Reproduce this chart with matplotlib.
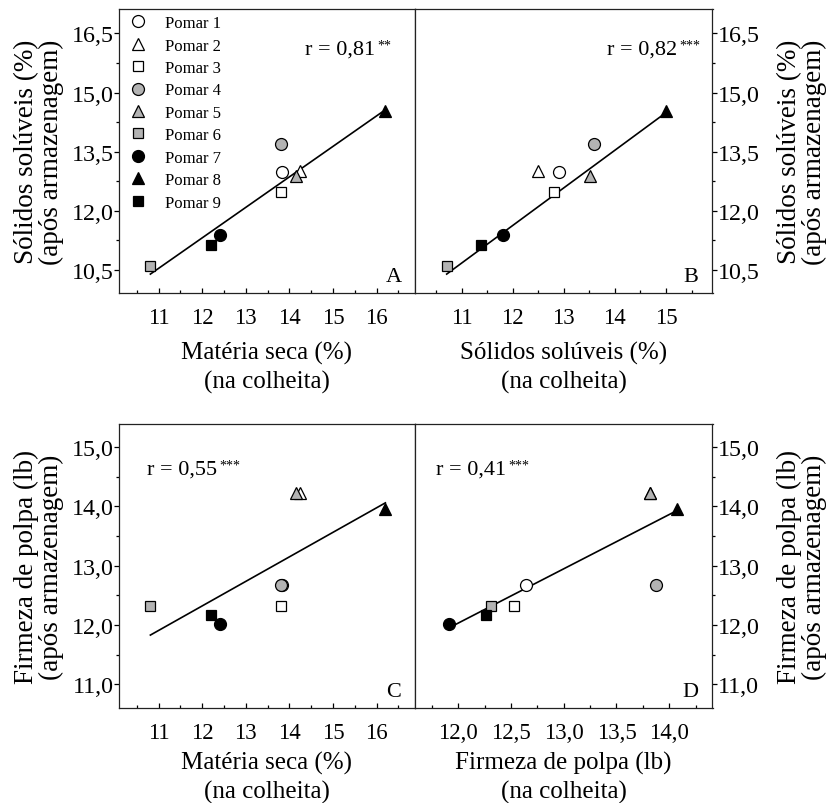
import matplotlib
matplotlib.use("Agg")
import matplotlib.pyplot as plt
from matplotlib import ticker

plt.rcParams['font.family'] = ['Liberation Serif', 'DejaVu Serif']

# ---------------- data ----------------
pomares = ['Pomar 1', 'Pomar 2', 'Pomar 3', 'Pomar 4', 'Pomar 5',
           'Pomar 6', 'Pomar 7', 'Pomar 8', 'Pomar 9']
ms_colheita = [13.84, 14.24, 13.80, 13.80, 14.15, 10.81, 12.40, 16.20, 12.21]
ss_colheita = [12.90, 12.50, 12.81, 13.59, 13.51, 10.71, 11.81, 15.01, 11.39]
ss_armaz = [12.97, 13.01, 12.48, 13.69, 12.87, 10.60, 11.38, 14.54, 11.13]
ff_colheita = [12.64, 13.82, 12.53, 13.87, 13.82, 12.31, 11.91, 14.07, 12.26]
ff_armaz = [12.67, 14.23, 12.32, 12.67, 14.23, 12.32, 12.02, 13.95, 12.17]

lineA_x = [10.81, 16.12]; lineA_y = [10.39, 14.50]
lineB_x = [10.71, 14.98]; lineB_y = [10.39, 14.47]
lineC_x = [10.81, 16.20]; lineC_y = [11.83, 14.06]
lineD_x = [11.91, 14.04]; lineD_y = [11.95, 13.90]

r_labels = ['0,81', '0,82', '0,55', '0,41']
r_stars = ['**', '***', '***', '***']
panel_letters = ['A', 'B', 'C', 'D']

# marker styles per pomar
GRAY = '#b3b3b3'
shapes = ['o', '^', 's', 'o', '^', 's', 'o', '^', 's']
faces = ['white', 'white', 'white', GRAY, GRAY, GRAY, 'black', 'black', 'black']
msizes = {'o': 8.6, '^': 8.6, 's': 7.2}

W, H = 828, 804
fig = plt.figure(figsize=(W / 100, H / 100), dpi=100)

def rect(l, r, t, b):
    return [l / W, (H - b) / H, (r - l) / W, (b - t) / H]

axA = fig.add_axes(rect(119, 415, 10, 294))
axB = fig.add_axes(rect(415, 712.5, 10, 294))
axC = fig.add_axes(rect(119, 415, 425, 709))
axD = fig.add_axes(rect(415, 712.5, 425, 709))

def comma(fmt):
    return ticker.FuncFormatter(lambda v, p: (fmt % v).replace('.', ','))

def style(ax, side):
    for s in ax.spines.values():
        s.set_linewidth(0.9)
        s.set_color('#222222')
    ax.tick_params(axis='x', which='both', direction='in', top=False,
                   labelsize=16.5, pad=10)
    ax.tick_params(axis='x', which='major', length=3.6, width=0.9)
    ax.tick_params(axis='x', which='minor', length=2.3, width=0.9)
    if side == 'left':
        ax.tick_params(axis='y', which='both', direction='out', left=True,
                       right=False, labelleft=True, labelright=False,
                       labelsize=17.3, pad=0.3)
    else:
        ax.tick_params(axis='y', which='both', direction='out', left=False,
                       right=True, labelleft=False, labelright=True,
                       labelsize=17.3, pad=0.5)
    ax.tick_params(axis='y', which='major', length=3.6, width=0.9)
    ax.tick_params(axis='y', which='minor', length=2.3, width=0.9)

def scatter(ax, xs, ys):
    for i in range(len(pomares)):
        ax.plot(xs[i], ys[i], linestyle='none', marker=shapes[i],
                markersize=msizes[shapes[i]], markerfacecolor=faces[i],
                markeredgecolor='black', markeredgewidth=0.9,
                label=pomares[i], zorder=3 + i * 0.01)

panels = [
    (axA, ms_colheita, ss_armaz, lineA_x, lineA_y, 'left'),
    (axB, ss_colheita, ss_armaz, lineB_x, lineB_y, 'right'),
    (axC, ms_colheita, ff_armaz, lineC_x, lineC_y, 'left'),
    (axD, ff_colheita, ff_armaz, lineD_x, lineD_y, 'right'),
]
for ax, xs, ys, lx, ly, side in panels:
    style(ax, side)
    ax.plot(lx, ly, color='black', linewidth=1.2, zorder=2)
    scatter(ax, xs, ys)

# limits and ticks
for ax in (axA, axC):
    ax.set_xlim(10.09, 16.88)
    ax.xaxis.set_major_locator(ticker.MultipleLocator(1))
    ax.xaxis.set_minor_locator(ticker.MultipleLocator(0.5))
    ax.xaxis.set_major_formatter(comma('%.0f'))
axB.set_xlim(10.09, 15.91)
axB.xaxis.set_major_locator(ticker.MultipleLocator(1))
axB.xaxis.set_minor_locator(ticker.MultipleLocator(0.5))
axB.xaxis.set_major_formatter(comma('%.0f'))
axD.set_xlim(11.59, 14.41)
axD.xaxis.set_major_locator(ticker.MultipleLocator(0.5))
axD.xaxis.set_minor_locator(ticker.MultipleLocator(0.25))
axD.xaxis.set_major_formatter(comma('%.1f'))

for ax in (axA, axB):
    ax.set_ylim(9.91, 17.12)
    ax.yaxis.set_major_locator(ticker.FixedLocator([10.5, 12.0, 13.5, 15.0, 16.5]))
    ax.yaxis.set_minor_locator(ticker.FixedLocator([11.25, 12.75, 14.25, 15.75]))
    ax.yaxis.set_major_formatter(comma('%.1f'))
for ax in (axC, axD):
    ax.set_ylim(10.60, 15.39)
    ax.yaxis.set_major_locator(ticker.FixedLocator([11.0, 12.0, 13.0, 14.0, 15.0]))
    ax.yaxis.set_minor_locator(ticker.FixedLocator([11.5, 12.5, 13.5, 14.5]))
    ax.yaxis.set_major_formatter(comma('%.1f'))

# axis labels
xlabels = ["Matéria seca (%)\n(na colheita)", "Sólidos solúveis (%)\n(na colheita)",
           "Matéria seca (%)\n(na colheita)", "Firmeza de polpa (lb)\n(na colheita)"]
ylab_top = "Sólidos solúveis (%)\n(após armazenagem)"
ylab_bot = "Firmeza de polpa (lb)\n(após armazenagem)"
for ax, xl, yc in zip((axA, axB, axC, axD), xlabels, (-0.26, -0.26, -0.243, -0.243)):
    ax.set_xlabel(xl, fontsize=18, linespacing=1.3, va='center')
    ax.xaxis.set_label_coords(0.5, yc)

for ax, yl, side in ((axA, ylab_top, 'left'), (axB, ylab_top, 'right'),
                     (axC, ylab_bot, 'left'), (axD, ylab_bot, 'right')):
    ax.set_ylabel(yl, fontsize=19.5, linespacing=1.0, va='center', ha='center')
    if side == 'right':
        ax.yaxis.set_label_position('right')
        ax.yaxis.label.set_rotation(90)
        ax.yaxis.label.set_va('center')
        ax.yaxis.set_label_coords(1.300, 0.5)
    else:
        ax.yaxis.set_label_coords(-0.27, 0.5)

# r annotations (main text + small superscript stars)
r_pos = [(0.865, 0.842, 'right'), (0.880, 0.842, 'right'),
         (0.094, 0.824, 'left'), (0.071, 0.824, 'left')]
for ax, rl, st, (x, y, ha) in zip((axA, axB, axC, axD), r_labels, r_stars, r_pos):
    t = ax.text(x, y, 'r = ' + rl, transform=ax.transAxes,
                ha=ha, va='baseline', fontsize=16)
    ax.annotate(st, xy=(1.0, 0.74), xycoords=t, xytext=(1.5, 0),
                textcoords='offset points', ha='left', va='center', fontsize=10)

# panel letters
for ax, letter in zip((axA, axB, axC, axD), panel_letters):
    ax.text(0.927, 0.042, letter, transform=ax.transAxes, ha='center',
            va='baseline', fontsize=16)

# legend in panel A
axA.legend(loc='upper left', bbox_to_anchor=(0.036, 0.978), frameon=False,
           fontsize=12, handlelength=1.0, handletextpad=1.1, labelspacing=0.385,
           borderpad=0, borderaxespad=0, numpoints=1)

fig.savefig('out.png', dpi=100)
